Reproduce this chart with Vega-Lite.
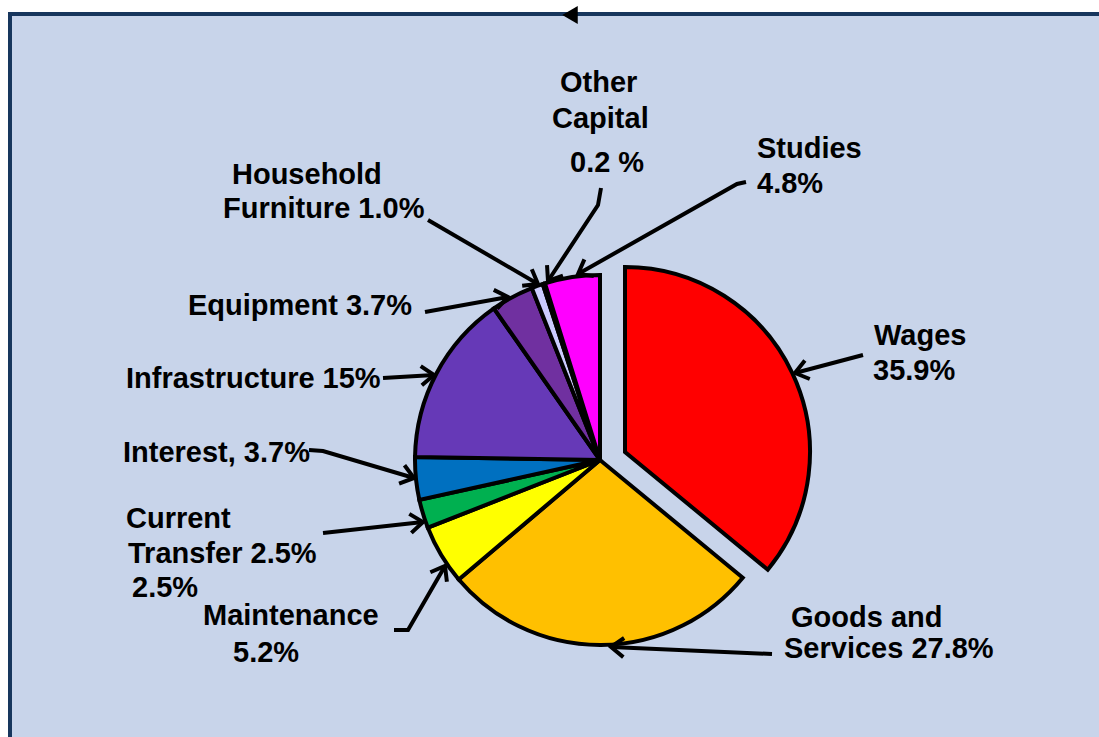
{
  "$schema": "https://vega.github.io/schema/vega-lite/v6.json",
  "width": 1089,
  "height": 723,
  "autosize": "none",
  "padding": {"left": 10, "top": 14, "right": 0, "bottom": 0},
  "background": "#FFFFFF",
  "config": {"view": {"fill": "#C8D4EA", "stroke": null}, "font": "Liberation Sans"},
  "datasets": {
    "slices": [
      {"idx": 1, "category": "Wages", "value": 35.9},
      {"idx": 2, "category": "Goods and Services", "value": 27.8},
      {"idx": 3, "category": "Maintenance", "value": 5.2},
      {"idx": 4, "category": "Current Transfer", "value": 2.5},
      {"idx": 5, "category": "Interest", "value": 3.7},
      {"idx": 6, "category": "Infrastructure", "value": 15},
      {"idx": 7, "category": "Equipment", "value": 3.7},
      {"idx": 8, "category": "Household Furniture", "value": 1.0},
      {"idx": 9, "category": "Other Capital", "value": 0.2},
      {"idx": 10, "category": "Studies", "value": 4.8}
    ],
    "labels": [
      {"text": "Wages", "x": 2.74, "y": 1.15},
      {"text": "35.9%", "x": 2.73, "y": 0.80},
      {"text": "Goods and", "x": 1.91, "y": -1.67},
      {"text": "Services 27.8%", "x": 1.84, "y": -1.98},
      {"text": "Maintenance", "x": -3.97, "y": -1.65},
      {"text": "5.2%", "x": -3.67, "y": -2.02},
      {"text": "Current", "x": -4.74, "y": -0.68},
      {"text": "Transfer 2.5%", "x": -4.72, "y": -1.03},
      {"text": "2.5%", "x": -4.68, "y": -1.37},
      {"text": "Interest, 3.7%", "x": -4.77, "y": -0.02},
      {"text": "Infrastructure 15%", "x": -4.74, "y": 0.72},
      {"text": "Equipment 3.7%", "x": -4.12, "y": 1.45},
      {"text": "Household", "x": -3.68, "y": 2.76},
      {"text": "Furniture 1.0%", "x": -3.77, "y": 2.42},
      {"text": "Other", "x": -0.40, "y": 3.68},
      {"text": "Capital", "x": -0.48, "y": 3.32},
      {"text": "0.2 %", "x": -0.30, "y": 2.88},
      {"text": "Studies", "x": 1.57, "y": 3.02},
      {"text": "4.8%", "x": 1.57, "y": 2.67}
    ],
    "arrows": [
      {"arrow": "Wages", "seq": 1, "x": 2.63, "y": 1.05},
      {"arrow": "Wages", "seq": 2, "x": 1.95, "y": 0.87},
      {"arrow": "Goods", "seq": 1, "x": 1.72, "y": -1.94},
      {"arrow": "Goods", "seq": 2, "x": 0.11, "y": -1.87},
      {"arrow": "Maintenance", "seq": 1, "x": -2.06, "y": -1.70},
      {"arrow": "Maintenance", "seq": 2, "x": -1.92, "y": -1.70},
      {"arrow": "Maintenance", "seq": 3, "x": -1.55, "y": -1.06},
      {"arrow": "Current", "seq": 1, "x": -2.77, "y": -0.73},
      {"arrow": "Current", "seq": 2, "x": -1.77, "y": -0.62},
      {"arrow": "Interest", "seq": 1, "x": -2.91, "y": 0.10},
      {"arrow": "Interest", "seq": 2, "x": -2.77, "y": 0.09},
      {"arrow": "Interest", "seq": 3, "x": -1.86, "y": -0.18},
      {"arrow": "Infrastructure", "seq": 1, "x": -2.17, "y": 0.82},
      {"arrow": "Infrastructure", "seq": 2, "x": -1.66, "y": 0.85},
      {"arrow": "Equipment", "seq": 1, "x": -1.75, "y": 1.48},
      {"arrow": "Equipment", "seq": 2, "x": -0.92, "y": 1.63},
      {"arrow": "Household", "seq": 1, "x": -1.72, "y": 2.40},
      {"arrow": "Household", "seq": 2, "x": -0.62, "y": 1.76},
      {"arrow": "Other", "seq": 1, "x": 0.01, "y": 2.72},
      {"arrow": "Other", "seq": 2, "x": -0.02, "y": 2.55},
      {"arrow": "Other", "seq": 3, "x": -0.52, "y": 1.79},
      {"arrow": "Studies", "seq": 1, "x": 1.46, "y": 2.78},
      {"arrow": "Studies", "seq": 2, "x": 1.37, "y": 2.76},
      {"arrow": "Studies", "seq": 3, "x": -0.22, "y": 1.86}
    ],
    "heads": [
      {"arrow": "Wages", "x": 1.95, "y": 0.87, "fx": 2.63, "fy": 1.05},
      {"arrow": "Goods", "x": 0.11, "y": -1.87, "fx": 1.72, "fy": -1.94},
      {"arrow": "Maintenance", "x": -1.55, "y": -1.06, "fx": -1.92, "fy": -1.70},
      {"arrow": "Current", "x": -1.77, "y": -0.62, "fx": -2.77, "fy": -0.73},
      {"arrow": "Interest", "x": -1.86, "y": -0.18, "fx": -2.77, "fy": 0.09},
      {"arrow": "Infrastructure", "x": -1.66, "y": 0.85, "fx": -2.17, "fy": 0.82},
      {"arrow": "Equipment", "x": -0.92, "y": 1.63, "fx": -1.75, "fy": 1.48},
      {"arrow": "Household", "x": -0.62, "y": 1.76, "fx": -1.72, "fy": 2.40},
      {"arrow": "Other", "x": -0.52, "y": 1.79, "fx": -0.02, "fy": 2.55},
      {"arrow": "Studies", "x": -0.22, "y": 1.86, "fx": 1.37, "fy": 2.76}
    ],
    "marker": [
      {"x": -0.30, "y": 4.45}
    ],
    "frame": [
      {"x": -5.9, "x2": 4.99, "y": 4.46, "y2": 4.46},
      {"x": -5.9, "x2": -5.9, "y": -2.77, "y2": 4.46}
    ]
  },
  "layer": [
    {
      "data": {"name": "slices"},
      "mark": {"type": "arc", "outerRadius": 185, "stroke": "#000000", "strokeWidth": 4, "strokeJoin": "miter"},
      "encoding": {
        "theta": {"field": "value", "type": "quantitative", "stack": true},
        "order": {"field": "idx", "type": "quantitative"},
        "color": {
          "field": "category", "type": "nominal", "legend": null,
          "scale": {
            "domain": ["Wages", "Goods and Services", "Maintenance", "Current Transfer", "Interest", "Infrastructure", "Equipment", "Household Furniture", "Other Capital", "Studies"],
            "range": ["#FF0000", "#FFC000", "#FFFF00", "#00B050", "#0070C0", "#6639B7", "#7030A0", "#CCCCFF", "#333366", "#FF00FF"]
          }
        },
        "x": {"datum": 0, "type": "quantitative", "scale": {"domain": [-5.9, 4.99], "nice": false, "zero": false}, "axis": null},
        "y": {"datum": 0, "type": "quantitative", "scale": {"domain": [-2.77, 4.46], "nice": false, "zero": false}, "axis": null},
        "opacity": {"condition": {"test": "datum.category === 'Wages'", "value": 0}, "value": 1}
      }
    },
    {
      "data": {"name": "slices"},
      "mark": {"type": "arc", "outerRadius": 185, "stroke": "#000000", "strokeWidth": 4, "strokeJoin": "miter"},
      "encoding": {
        "theta": {"field": "value", "type": "quantitative", "stack": true},
        "order": {"field": "idx", "type": "quantitative"},
        "color": {"field": "category", "type": "nominal", "legend": null},
        "x": {"datum": 0.25, "type": "quantitative", "scale": {"domain": [-5.9, 4.99], "nice": false, "zero": false}, "axis": null},
        "y": {"datum": 0.08, "type": "quantitative", "scale": {"domain": [-2.77, 4.46], "nice": false, "zero": false}, "axis": null},
        "opacity": {"condition": {"test": "datum.category === 'Wages'", "value": 1}, "value": 0}
      }
    },
    {
      "data": {"name": "arrows"},
      "mark": {"type": "line", "stroke": "#000000", "strokeWidth": 4, "strokeJoin": "miter", "strokeCap": "butt"},
      "encoding": {
        "x": {"field": "x", "type": "quantitative", "scale": {"domain": [-5.9, 4.99], "nice": false, "zero": false}, "axis": null},
        "y": {"field": "y", "type": "quantitative", "scale": {"domain": [-2.77, 4.46], "nice": false, "zero": false}, "axis": null},
        "detail": {"field": "arrow", "type": "nominal"},
        "order": {"field": "seq", "type": "quantitative"}
      }
    },
    {
      "data": {"name": "heads"},
      "transform": [
        {"calculate": "atan2(datum.x - datum.fx, datum.y - datum.fy) * 180 / PI", "as": "angle"}
      ],
      "mark": {"type": "point", "shape": "M -0.75 1 L 0 0 L 0.75 1", "filled": false, "stroke": "#000000", "strokeWidth": 4, "size": 650, "opacity": 1, "strokeJoin": "miter"},
      "encoding": {
        "x": {"field": "x", "type": "quantitative", "scale": {"domain": [-5.9, 4.99], "nice": false, "zero": false}, "axis": null},
        "y": {"field": "y", "type": "quantitative", "scale": {"domain": [-2.77, 4.46], "nice": false, "zero": false}, "axis": null},
        "angle": {"field": "angle", "type": "quantitative", "scale": null}
      }
    },
    {
      "data": {"name": "labels"},
      "mark": {"type": "text", "align": "left", "baseline": "alphabetic", "fontSize": 29, "fontWeight": "bold", "font": "Liberation Sans", "color": "#000000"},
      "encoding": {
        "x": {"field": "x", "type": "quantitative", "scale": {"domain": [-5.9, 4.99], "nice": false, "zero": false}, "axis": null},
        "y": {"field": "y", "type": "quantitative", "scale": {"domain": [-2.77, 4.46], "nice": false, "zero": false}, "axis": null},
        "text": {"field": "text", "type": "nominal"}
      }
    },
    {
      "data": {"name": "frame"},
      "mark": {"type": "rule", "color": "#17365D", "strokeWidth": 4, "strokeCap": "square"},
      "encoding": {
        "x": {"field": "x", "type": "quantitative"},
        "x2": {"field": "x2"},
        "y": {"field": "y", "type": "quantitative"},
        "y2": {"field": "y2"}
      }
    },
    {
      "data": {"name": "marker"},
      "mark": {"type": "point", "shape": "triangle-left", "filled": true, "color": "#000000", "size": 320, "opacity": 1},
      "encoding": {
        "x": {"field": "x", "type": "quantitative"},
        "y": {"field": "y", "type": "quantitative"}
      }
    }
  ]
}
